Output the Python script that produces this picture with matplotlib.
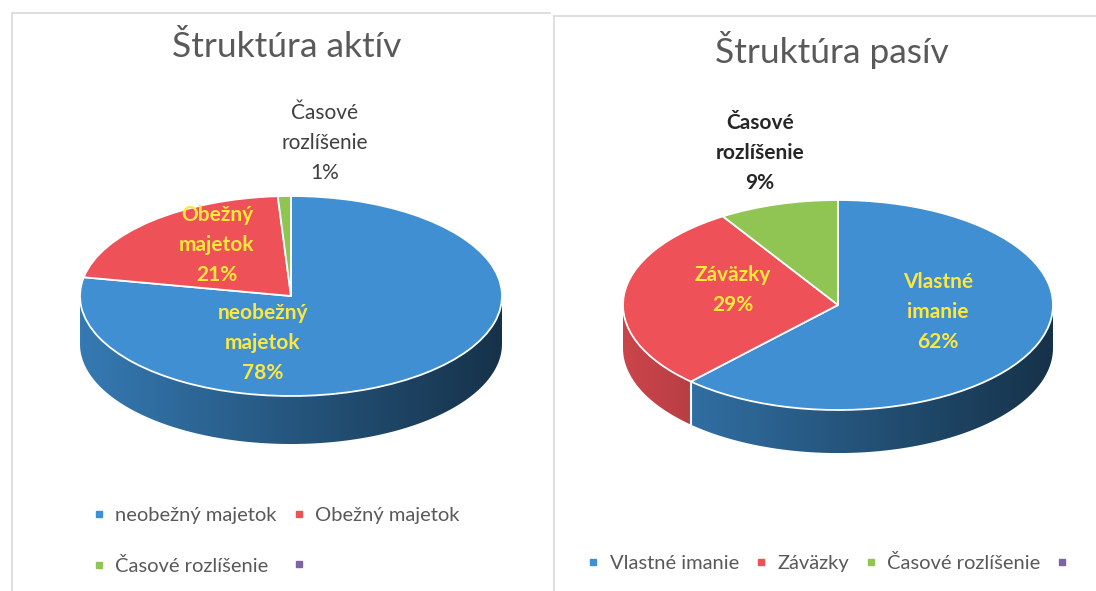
import numpy as np
import matplotlib.pyplot as plt
from matplotlib.patches import Polygon
from matplotlib.lines import Line2D

plt.rcParams['font.family'] = ['Lato', 'DejaVu Sans']

W, H = 1096, 591

# Data
aktiva_title = "Štruktúra aktív"
aktiva_labels = ["neobežný majetok", "Obežný majetok", "Časové rozlíšenie", ""]
aktiva_values = [78, 21, 1]

pasiva_title = "Štruktúra pasív"
pasiva_labels = ["Vlastné imanie", "Záväzky", "Časové rozlíšenie", ""]
pasiva_values = [62, 29, 9]

colors = ['#3F8FD2', '#EE5158', '#90C453', '#8064A2']


def px(x, y):
    return x / W, 1 - y / H


def pie_axes(fig, cx, cy, rx, ry, depth):
    left, right = cx - 1.3 * rx, cx + 1.3 * rx
    top, bottom = cy - 1.3 * ry, cy + (1.3 + depth) * ry
    return fig.add_axes([left / W, 1 - bottom / H, (right - left) / W, (bottom - top) / H])


def draw_side(ax, wedges, depth):
    xs = np.linspace(-1, 1, 256)
    shade = 0.6 - 0.25 * xs
    for w in wedges:
        ang = np.deg2rad(np.linspace(w.theta1, w.theta2, 600))
        front = np.sin(ang) <= 0
        if front.sum() < 2:
            continue
        a = ang[front]
        top = np.column_stack([np.cos(a), np.sin(a)])
        bot = np.column_stack([np.cos(a[::-1]), np.sin(a[::-1]) - depth])
        patch = Polygon(np.vstack([top, bot]), closed=True, facecolor='none',
                        edgecolor='none')
        ax.add_patch(patch)
        base = np.array(w.get_facecolor()[:3])
        img = np.clip(base[None, None, :] * shade[None, :, None], 0, 1)
        im = ax.imshow(img, extent=(-1, 1, -1 - depth, 0), aspect='auto',
                       interpolation='bilinear', zorder=1)
        im.set_clip_path(patch)
        # white seam where slices meet on the visible side
        r1 = np.deg2rad(w.theta1)
        if np.sin(r1) < -0.05:
            ax.plot([np.cos(r1)] * 2, [np.sin(r1), np.sin(r1) - depth],
                    color='white', lw=1.5, zorder=2)


def draw_chart(fig, title, title_xy, labels, values, cx, cy, rx, ry, depth,
               label_pos, label_colors, label_bold, legend_xy, ncol):
    fig.text(*px(*title_xy), title, ha='center', va='center', fontsize=25.5, color='#595959')

    ax = pie_axes(fig, cx, cy, rx, ry, depth)
    wedges, _ = ax.pie(values, colors=colors[:len(values)], startangle=90, counterclock=False,
                       wedgeprops=dict(edgecolor='white', linewidth=1.3, zorder=3))
    draw_side(ax, wedges, depth)
    ax.set_aspect('auto')
    ax.set_xlim(-1.3, 1.3)
    ax.set_ylim(-1.3 - depth, 1.3)
    ax.axis('off')

    for lab, val, pos, col, bold in zip(labels, values, label_pos, label_colors, label_bold):
        txt = lab.replace(' ', '\n') + "\n{:d}%".format(val)
        fig.text(*px(*pos), txt, ha='center', va='center', fontsize=15, color=col,
                 fontweight='bold' if bold else 'normal', linespacing=1.6)

    handles = [Line2D([], [], marker='s', linestyle='', markersize=4.5, color=c) for c in colors]
    labs = list(labels)
    if ncol == 2:
        order = [0, 2, 1, 3]
        handles = [handles[i] for i in order]
        labs = [labs[i] for i in order]
    fig.legend(handles, labs, loc='center', bbox_to_anchor=px(*legend_xy), ncol=ncol,
               frameon=False, fontsize=14.5, labelcolor='#595959', handlelength=0.6,
               handletextpad=0.5, columnspacing=0.8, labelspacing=1.6, borderpad=0)


fig = plt.figure(figsize=(W / 100, H / 100), dpi=100)

# faint panel borders
for xs, ys in [([12, 12], [13, 591]), ([12, 550], [13, 13]),
               ([554, 554], [16, 591]), ([554, 1096], [16, 16])]:
    fig.add_artist(Line2D([x / W for x in xs], [1 - y / H for y in ys],
                          color='#D9D9D9', lw=1.2))

draw_chart(fig, aktiva_title, (287, 47), aktiva_labels, aktiva_values,
           291, 296, 211, 100, 0.48,
           [(263, 343), (217, 245), (325, 143)],
           ['#FFE83D', '#FFE83D', '#404040'], [True, True, False],
           (276, 541), 2)

draw_chart(fig, pasiva_title, (832, 50), pasiva_labels, pasiva_values,
           838, 305, 215, 105, 0.41,
           [(938, 312), (733, 290), (760, 153)],
           ['#FFE83D', '#FFE83D', '#262626'], [True, True, True],
           (833, 563), 4)

fig.savefig("out.png", dpi=100)
plt.close(fig)
